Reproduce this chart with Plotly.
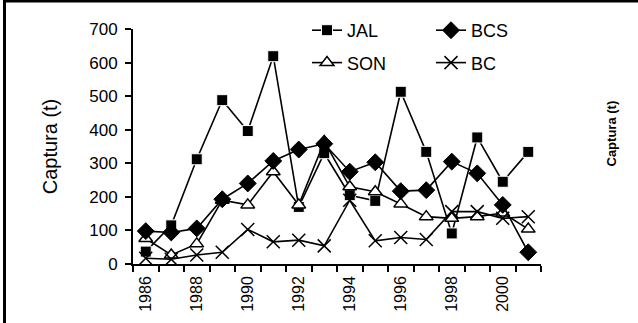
import plotly.graph_objects as go

years = list(range(1986, 2002))
jal = [37, 115, 312, 488, 396, 619, 170, 330, 205, 188, 513, 334, 91, 377, 245, 334]
bcs = [98, 94, 106, 193, 240, 307, 341, 358, 275, 303, 217, 220, 305, 270, 176, 35]
son = [76, 27, 60, 190, 176, 275, 176, 365, 230, 215, 179, 141, 136, 141, 152, 104]
bc = [17, 14, 27, 35, 103, 66, 71, 54, 190, 69, 79, 73, 156, 156, 136, 141]

y_ticks = [0, 100, 200, 300, 400, 500, 600, 700]
x_label_years = [1986, 1988, 1990, 1992, 1994, 1996, 1998, 2000]
boundaries = [y - 0.5 for y in range(1986, 2003)]

FONT = "Liberation Sans, Arial, sans-serif"
LINE = dict(color="black", width=1.6)

fig = go.Figure()

fig.add_trace(go.Scatter(
    x=years, y=jal, name="JAL", mode="lines+markers", line=LINE,
    marker=dict(symbol="square", size=11, color="black", line=dict(color="white", width=1)),
    legend="legend", legendgroup="a"))
fig.add_trace(go.Scatter(
    x=years, y=son, name="SON", mode="lines+markers", line=LINE,
    marker=dict(symbol="triangle-up", size=12, color="white", line=dict(color="black", width=1.5)),
    legend="legend", legendgroup="b"))
fig.add_trace(go.Scatter(
    x=years, y=bcs, name="BCS", mode="lines+markers", line=LINE,
    marker=dict(symbol="diamond", size=13, color="black", line=dict(color="black", width=1)),
    legend="legend2", legendgroup="c"))
fig.add_trace(go.Scatter(
    x=years, y=bc, name="BC", mode="lines+markers", line=LINE,
    marker=dict(symbol="x-thin", size=13, color="black", line=dict(color="black", width=1.5)),
    legend="legend2", legendgroup="d"))
# invisible helper trace so the label axis is drawn
fig.add_trace(go.Scatter(x=years, y=[None] * len(years), xaxis="x2", showlegend=False,
                         hoverinfo="skip", mode="lines"))

W, H = 638, 323
L, R, T, B = 133, 97, 29, 59
pw, ph = W - L - R, H - T - B

def px_x(p):
    return (p - L) / pw

def px_y(p):
    return (H - B - p) / ph

fig.update_layout(
    width=W, height=H,
    margin=dict(l=L, r=R, t=T, b=B, autoexpand=False),
    paper_bgcolor="white", plot_bgcolor="white",
    font=dict(family=FONT, color="black", size=17),
    xaxis=dict(
        range=[1985.5, 2001.5], tickmode="array", tickvals=boundaries,
        showticklabels=False, ticks="outside", ticklen=6, tickwidth=1.5, tickcolor="black",
        showline=True, linecolor="black", linewidth=2, showgrid=False, zeroline=False,
    ),
    xaxis2=dict(
        overlaying="x", matches="x", anchor="y", side="bottom",
        tickmode="array", tickvals=x_label_years, ticktext=[str(v) for v in x_label_years],
        tickangle=-90, ticks="", ticklabelstandoff=8, showline=False, showgrid=False,
        zeroline=False, tickfont=dict(size=16, family=FONT),
    ),
    yaxis=dict(
        range=[0, 700], tickmode="array", tickvals=y_ticks,
        ticks="outside", ticklen=6, tickwidth=1.5, tickcolor="black",
        showline=True, linecolor="black", linewidth=2, showgrid=False, zeroline=False,
        tickfont=dict(size=17, family=FONT), ticklabelstandoff=4,
        title=dict(text="Captura (t)", font=dict(size=20, family=FONT), standoff=26),
    ),
    legend=dict(
        x=px_x(307), y=px_y(12), xanchor="left", yanchor="top",
        bgcolor="rgba(0,0,0,0)", font=dict(size=18, family=FONT), tracegroupgap=6,
        itemclick=False,
    ),
    legend2=dict(
        x=px_x(431), y=px_y(12), xanchor="left", yanchor="top",
        bgcolor="rgba(0,0,0,0)", font=dict(size=18, family=FONT), tracegroupgap=6,
        itemclick=False,
    ),
    annotations=[dict(
        text="<b>Captura (t)</b>", x=px_x(620), y=px_y(134), xref="paper", yref="paper",
        showarrow=False, textangle=-90, font=dict(size=13, family=FONT, color="black"),
    )],
    shapes=[dict(
        type="rect", xref="paper", yref="paper",
        x0=px_x(4.5), x1=px_x(660), y0=px_y(340), y1=px_y(1),
        line=dict(color="black", width=3), fillcolor="rgba(0,0,0,0)", layer="below",
    )],
)

fig.write_html("out.html", config={"displayModeBar": False},
               post_script="document.body.style.margin='0px';")
